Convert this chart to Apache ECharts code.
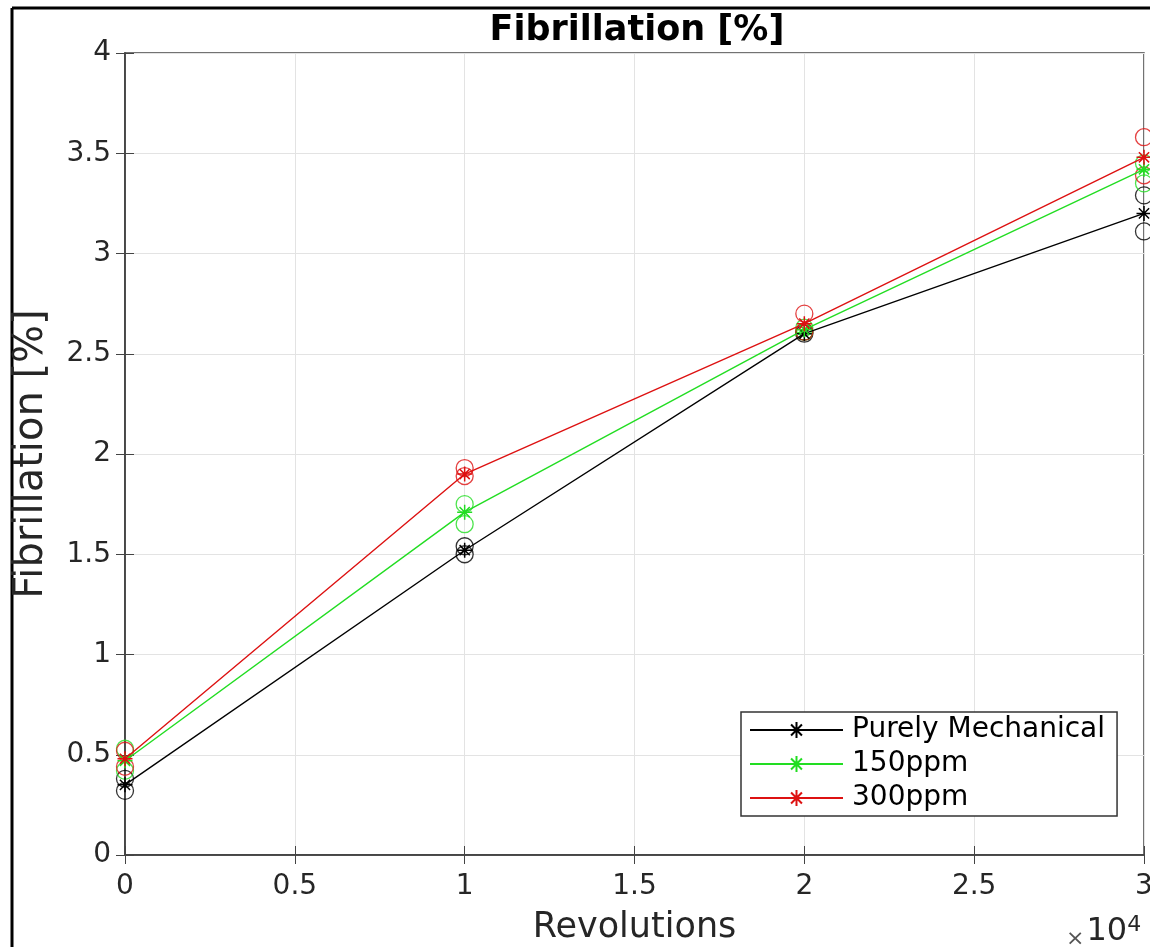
<!DOCTYPE html>
<html>
<head>
<meta charset="utf-8">
<script src="https://cdn.jsdelivr.net/npm/echarts@6/dist/echarts.min.js"></script>
<style>
html,body{margin:0;padding:0;background:#fff;}
#chart{width:1150px;height:947px;}
</style>
</head>
<body>
<div id="chart"></div>
<script>
// ---- data ----
const revolutions = [0, 10000, 20000, 30000];
const seriesNames = ['Purely Mechanical', '150ppm', '300ppm'];
const meanMech = [0.35, 1.52, 2.60, 3.20];
const mean150 = [0.47, 1.71, 2.62, 3.42];
const mean300 = [0.48, 1.90, 2.65, 3.48];
// individual measurements (circles) per revolution point
const repMech = [[0.32, 0.38], [1.54, 1.50], [2.60, 2.61], [3.29, 3.11]];
const rep150 = [[0.53, 0.42], [1.75, 1.65], [2.61, 2.63], [3.45, 3.35]];
const rep300 = [[0.52, 0.44], [1.93, 1.89], [2.70, 2.61], [3.58, 3.39]];
const xTicks = [0, 0.5, 1, 1.5, 2, 2.5, 3];
const yTicks = [0, 0.5, 1, 1.5, 2, 2.5, 3, 3.5, 4];

const colors = ['#000000', '#22dd22', '#dd1111'];
const means = [meanMech, mean150, mean300];
const reps = [repMech, rep150, rep300];

const star = 'path://M0,5L10,5M5,0L5,10M1.6,1.6L8.4,8.4M8.4,1.6L1.6,8.4';
const font = 'DejaVu Sans';

const series = [];
// circles
reps.forEach((r, i) => {
  const pts = [];
  r.forEach((vals, k) => vals.forEach(v => pts.push([revolutions[k], v])));
  series.push({
    type: 'scatter', name: seriesNames[i] + ' runs', data: pts, clip: false,
    symbol: 'circle', symbolSize: 17,
    itemStyle: {color: 'rgba(0,0,0,0)', borderColor: colors[i], borderWidth: 1.3},
    z: 3, silent: true
  });
});
means.forEach((m, i) => {
  series.push({
    type: 'line', name: seriesNames[i], clip: false,
    data: m.map((v, k) => [revolutions[k], v]),
    symbol: star, symbolSize: 15, showAllSymbol: true,
    lineStyle: {color: colors[i], width: 1.4},
    itemStyle: {color: 'rgba(0,0,0,0)', borderColor: colors[i], borderWidth: 1.5},
    z: 4
  });
});

const axisCol = '#262626';
const chart = echarts.init(document.getElementById('chart'), null, {renderer: 'canvas'});
chart.setOption({
  animation: false,
  backgroundColor: '#ffffff',
  title: {
    text: 'Fibrillation [%]', left: 632, top: 8, textAlign: 'center',
    textStyle: {fontFamily: font, fontWeight: 'bold', fontSize: 35, color: '#000'}
  },
  legend: {
    data: seriesNames, orient: 'vertical', left: 741, top: 712,
    itemWidth: 93, itemHeight: 20, itemGap: 6,
    padding: [4, 12, 4, 8],
    borderColor: '#333', borderWidth: 1.5, backgroundColor: '#fff',
    textStyle: {fontFamily: font, fontSize: 28, color: '#000', padding: [0, 0, 0, 4]},
    z: 10
  },
  grid: {left: 125, top: 53, right: 6, bottom: 92, outerBoundsMode: 'none', containLabel: false,
    show: true, borderColor: '#444', borderWidth: 1.5},
  xAxis: [{
    type: 'value', min: 0, max: 30000, interval: 5000,
    name: 'Revolutions', nameLocation: 'middle', nameGap: 55,
    nameTextStyle: {fontFamily: font, fontSize: 35, color: axisCol},
    axisLine: {show: true, lineStyle: {color: '#444', width: 1.5}},
    axisTick: {show: true, inside: true, length: 9, lineStyle: {color: '#444'}},
    axisLabel: {fontFamily: font, fontSize: 28, color: axisCol, margin: 18,
      formatter: v => { const t = v / 10000; return xTicks.indexOf(t) >= 0 ? String(t) : ''; }},
    splitLine: {show: true, lineStyle: {color: '#e3e3e3', width: 1}}
  }, {
    type: 'value', min: 0, max: 30000, interval: 5000, position: 'top',
    axisLine: {show: true, lineStyle: {color: '#444', width: 1.5}},
    axisTick: {show: true, inside: true, length: 9, lineStyle: {color: '#444'}},
    axisLabel: {show: false}, splitLine: {show: false}
  }],
  yAxis: [{
    type: 'value', min: 0, max: 4, interval: 0.5,
    name: 'Fibrillation [%]', nameLocation: 'middle', nameGap: 73,
    nameTextStyle: {fontFamily: font, fontSize: 40, color: axisCol},
    axisLine: {show: true, lineStyle: {color: '#444', width: 1.5}},
    axisTick: {show: true, inside: true, length: 9, lineStyle: {color: '#444'}},
    axisLabel: {fontFamily: font, fontSize: 28, color: axisCol, margin: 14,
      formatter: v => yTicks.indexOf(v) >= 0 ? String(v) : ''},
    splitLine: {show: true, lineStyle: {color: '#e3e3e3', width: 1}}
  }, {
    type: 'value', min: 0, max: 4, interval: 0.5, position: 'right',
    axisLine: {show: true, lineStyle: {color: '#444', width: 1.5}},
    axisTick: {show: true, inside: true, length: 9, lineStyle: {color: '#444'}},
    axisLabel: {show: false}, splitLine: {show: false}
  }],
  graphic: [
    {type: 'line', shape: {x1: 12, y1: 8, x2: 1150, y2: 8}, style: {stroke: '#000', lineWidth: 3}},
    {type: 'line', shape: {x1: 12, y1: 8, x2: 12, y2: 947}, style: {stroke: '#000', lineWidth: 3}},
    {type: 'text', left: 1066, top: 914, style: {
      text: '{x|\u00d7}{b|10}{s|4}', fill: axisCol,
      rich: {
        x: {fontFamily: font, fontSize: 22, fill: '#555', verticalAlign: 'bottom', padding: [0, 2, 0, 0]},
        b: {fontFamily: font, fontSize: 32, fill: axisCol},
        s: {fontFamily: font, fontSize: 22, fill: axisCol, verticalAlign: 'top', padding: [0, 0, 14, 0]}
      }
    }}
  ],
  series: series
});
</script>
</body>
</html>
